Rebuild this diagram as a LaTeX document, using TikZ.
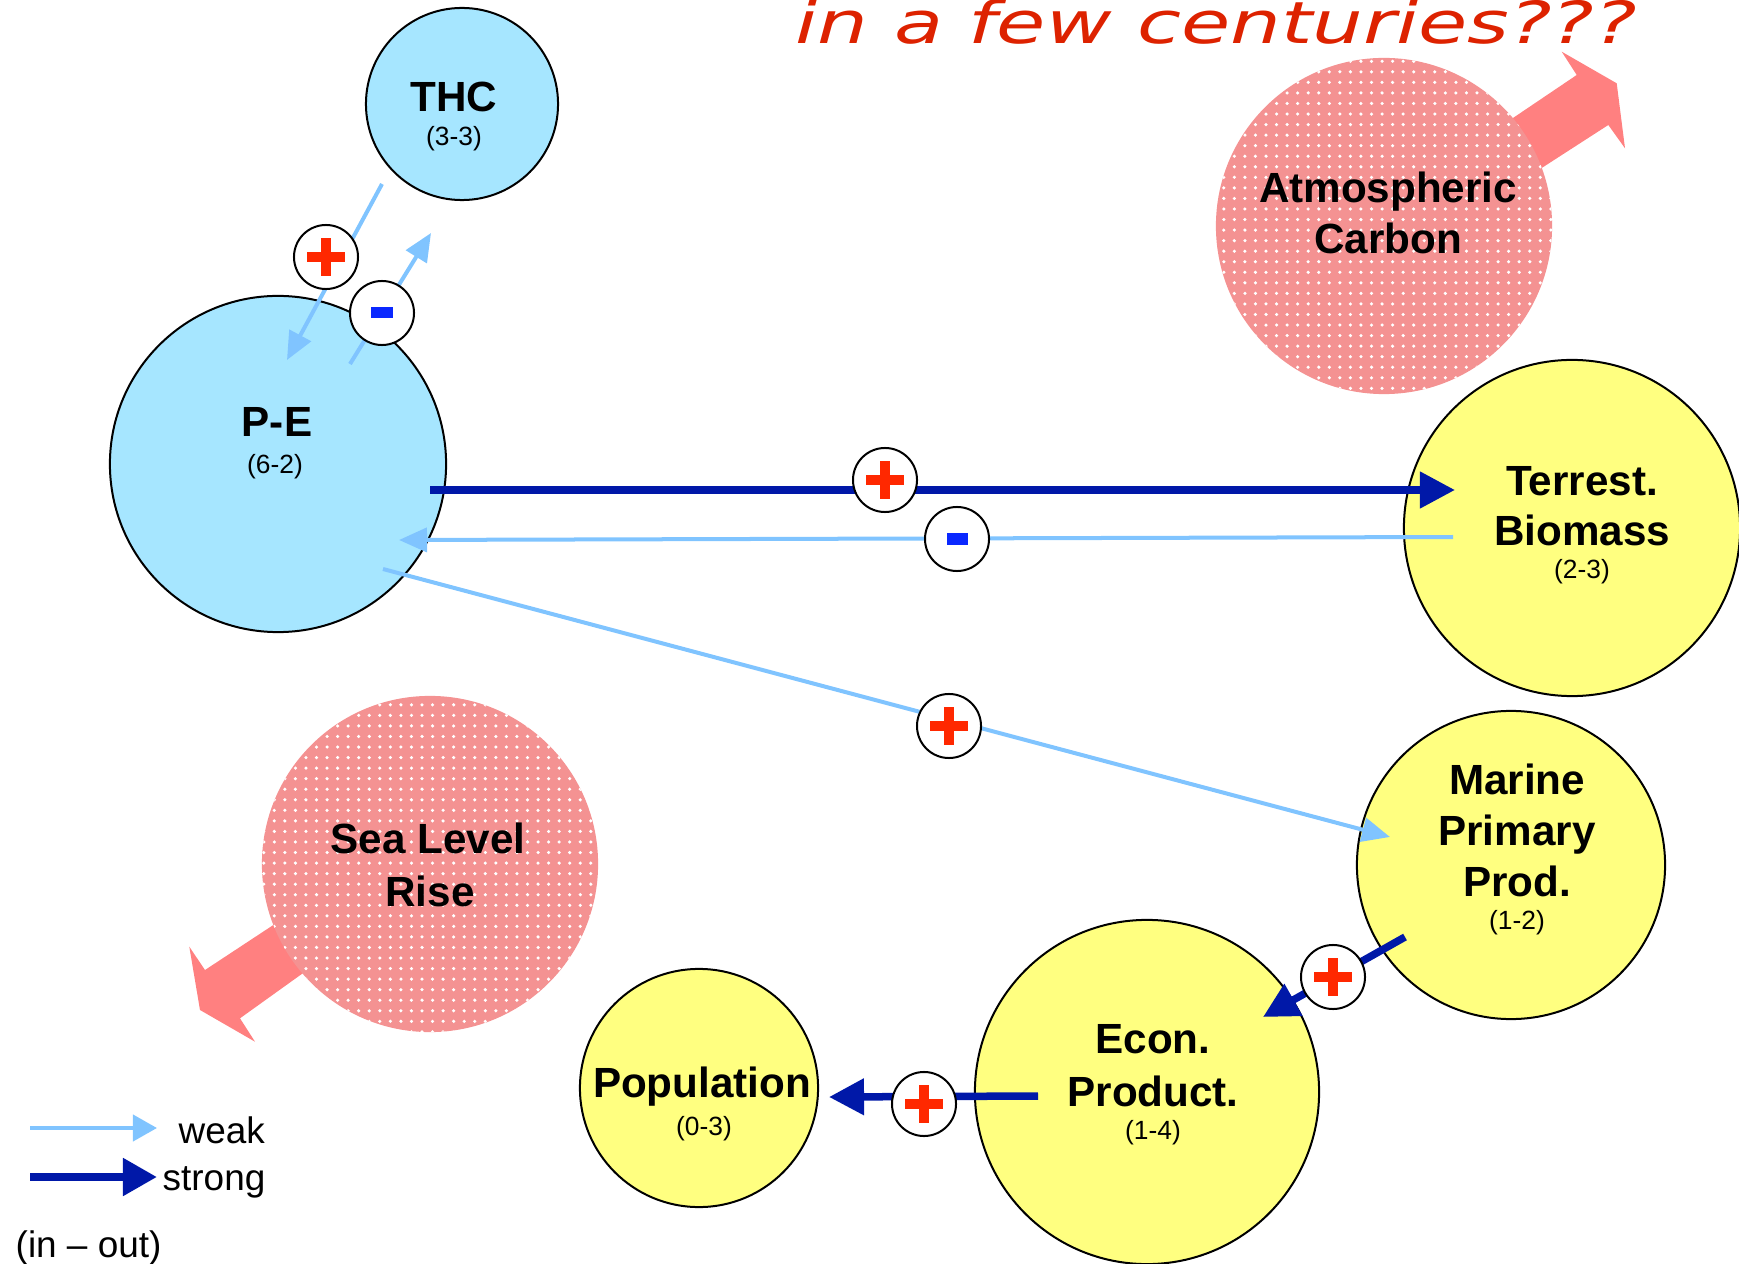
\documentclass[tikz,border=0pt]{standalone}
\usepackage{fontspec}
\usepackage{graphicx}
\setmainfont{Liberation Sans}
\newfontfamily\titlefont{DejaVu Sans}
\usetikzlibrary{arrows.meta,patterns}
\definecolor{cblue}{RGB}{166,230,255}
\definecolor{cyellow}{RGB}{255,255,128}
\definecolor{cpink}{RGB}{244,146,146}
\definecolor{carrowpink}{RGB}{255,128,128}
\definecolor{weakc}{RGB}{128,196,255}
\definecolor{strongc}{RGB}{0,24,168}
\definecolor{plusc}{RGB}{255,40,0}
\definecolor{minusc}{RGB}{10,40,255}
\definecolor{titlec}{RGB}{221,34,0}
\begin{document}
\begin{tikzpicture}[x=0.01cm,y=-0.01cm,
  bubble/.style={circle, draw=black, line width=0.2mm, inner sep=0pt},
  bluebub/.style={bubble, fill=cblue},
  yelbub/.style={bubble, fill=cyellow},
  pinkbub/.style={circle, inner sep=0pt, fill=cpink, postaction={pattern=dots, pattern color=white}},
  weakarr/.style={draw=weakc, line width=0.4mm, -{Triangle[length=2.8mm,width=2.4mm]}},
  strongarr/.style={draw=strongc, line width=0.75mm, -{Triangle[length=3.5mm,width=3.5mm]}},
  signc/.style={circle, draw=black, fill=white, line width=0.2mm, minimum size=0.64cm, inner sep=0pt},
  plussign/.style={signc, path picture={
    \fill[plusc] ([xshift=-1.9mm,yshift=-0.5mm]path picture bounding box.center) rectangle ([xshift=1.9mm,yshift=0.5mm]path picture bounding box.center);
    \fill[plusc] ([xshift=-0.5mm,yshift=-1.9mm]path picture bounding box.center) rectangle ([xshift=0.5mm,yshift=1.9mm]path picture bounding box.center);}},
  minussign/.style={signc, path picture={
    \fill[minusc] ([xshift=-1.05mm,yshift=-0.55mm]path picture bounding box.center) rectangle ([xshift=1.05mm,yshift=0.55mm]path picture bounding box.center);}},
  lblbig/.style={font=\bfseries\fontsize{12pt}{14pt}\selectfont, anchor=base, inner sep=0pt},
  lblsmall/.style={font=\fontsize{7.5pt}{9pt}\selectfont, anchor=base, inner sep=0pt},
  legtext/.style={font=\fontsize{10.5pt}{12pt}\selectfont, anchor=base west, inner sep=0pt}
]
\useasboundingbox (0,0) rectangle (1739,1264);

% title (partly cut off at the top)
\node[anchor=base west, text=titlec, inner sep=0pt,
      font=\titlefont\itshape\fontsize{16.5pt}{19pt}\selectfont] (title) at (795,44)
      {\scalebox{1.38}[1]{in a few centuries???}};

% big pink block arrows (drawn under their circles)
\fill[carrowpink] (1490,133.5) -- (1576.7,75) -- (1561.7,51.7) -- (1616.7,83.3)
   -- (1625,148.3) -- (1608.3,125) -- (1520,182) -- cycle;
\fill[carrowpink] (307.5,902.5) -- (205,970) -- (189.3,946.7) -- (200,1010)
   -- (255,1041.7) -- (240,1018.3) -- (337.5,948.4) -- cycle;

% circles
\node[bluebub, minimum size=1.92cm] (thc) at (462,104) {};
\node[bluebub, minimum size=3.36cm] (pe) at (278,464) {};
\node[pinkbub, minimum size=3.36cm] (atm) at (1384,226) {};
\node[yelbub, minimum size=3.36cm] (ter) at (1572,528) {};
\node[yelbub, minimum size=3.08cm] (mar) at (1511,865) {};
\node[yelbub, minimum size=3.44cm] (eco) at (1147,1092) {};
\node[yelbub, minimum size=2.38cm] (pop) at (699,1088) {};
\node[pinkbub, minimum size=3.36cm] (sea) at (430,864) {};

% connector end points
\coordinate (thc-o) at (382,184);   \coordinate (pe-i1) at (287,360);
\coordinate (pe-o1) at (350,364);   \coordinate (thc-i) at (431,233);
\coordinate (pe-o2) at (430,490);   \coordinate (ter-i) at (1455,490);
\coordinate (ter-o) at (1453,537);  \coordinate (pe-i2) at (399,540);
\coordinate (pe-o3) at (383,569);   \coordinate (mar-i) at (1390,837);
\coordinate (mar-o) at (1405,937);  \coordinate (eco-i) at (1263,1017);
\coordinate (eco-o) at (1038,1096); \coordinate (pop-i) at (829,1097);

% connectors
\draw[weakarr] (thc-o) -- (pe-i1);
\draw[weakarr] (pe-o1) -- (thc-i);
\draw[strongarr] (pe-o2) -- (ter-i);
\draw[weakarr] (ter-o) -- (pe-i2);
\draw[weakarr] (pe-o3) -- (mar-i);
\draw[strongarr] (mar-o) -- (eco-i);
\draw[strongarr] (eco-o) -- (pop-i);

% signs
\node[plussign] (s1) at (326,257) {};
\node[minussign] (s2) at (382,313) {};
\node[plussign] (s3) at (885,480) {};
\node[minussign] (s4) at (957,539) {};
\node[plussign] (s5) at (949,726) {};
\node[plussign] (s6) at (1333,977) {};
\node[plussign] (s7) at (924,1104) {};

% labels
\node[lblbig] (thc-t) at (454,112) {THC};
\node[lblsmall] (thc-n) at (454,146) {(3-3)};
\node[lblbig] (pe-t) at (277,437) {P-E};
\node[lblsmall] (pe-n) at (275,474) {(6-2)};
\node[lblbig] (atm-t1) at (1388,203) {Atmospheric};
\node[lblbig] (atm-t2) at (1388,254) {Carbon};
\node[lblbig] (ter-t1) at (1582,495) {Terrest.};
\node[lblbig] (ter-t2) at (1582,546) {Biomass};
\node[lblsmall] (ter-n) at (1582,579) {(2-3)};
\node[lblbig] (mar-t1) at (1517,794) {Marine};
\node[lblbig] (mar-t2) at (1517,845) {Primary};
\node[lblbig] (mar-t3) at (1517,896) {Prod.};
\node[lblsmall] (mar-n) at (1517,929) {(1-2)};
\node[lblbig] (eco-t1) at (1153,1053) {Econ.};
\node[lblbig] (eco-t2) at (1153,1106) {Product.};
\node[lblsmall] (eco-n) at (1153,1139) {(1-4)};
\node[lblbig] (pop-t) at (702,1097) {Population};
\node[lblsmall] (pop-n) at (704,1135) {(0-3)};
\node[lblbig] (sea-t1) at (428,853) {Sea Level};
\node[lblbig] (sea-t2) at (430,906) {Rise};

% legend
\coordinate (lw-a) at (30,1128); \coordinate (lw-b) at (157,1128);
\coordinate (ls-a) at (30,1177); \coordinate (ls-b) at (157,1177);
\draw[draw=weakc, line width=0.4mm, -{Triangle[length=2.4mm,width=2.6mm]}] (lw-a) -- (lw-b);
\draw[draw=strongc, line width=0.8mm, -{Triangle[length=3.4mm,width=3.6mm]}] (ls-a) -- (ls-b);
\node[legtext] (leg-w) at (178,1143) {weak};
\node[legtext] (leg-s) at (162,1190) {strong};
\node[legtext] (leg-io) at (15,1257) {(in – out)};
\end{tikzpicture}
\end{document}
